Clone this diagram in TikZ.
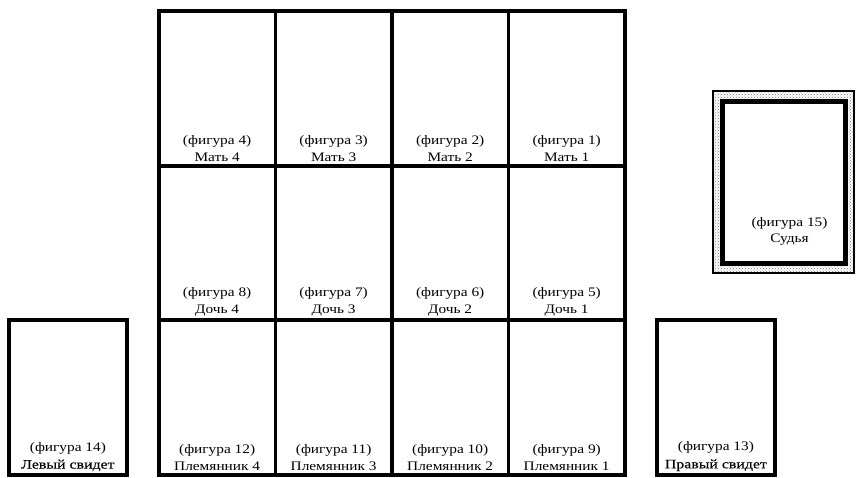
\documentclass[tikz,border=0pt]{standalone}
\usepackage{fontspec}
\setmainfont[FakeStretch=1.18]{Liberation Serif}
\newfontfamily\widefont[FakeStretch=1.22,FakeBold=0.3]{Liberation Serif}
\usetikzlibrary{patterns}
\begin{document}
\begin{tikzpicture}[x=1pt,y=-1pt]
\useasboundingbox[fill=white] (0,0) rectangle (859,477);
\tikzset{
  cellbox/.style={draw, line width=3.8pt, minimum width=116.5pt, minimum height=154.7pt, inner sep=0pt, anchor=north west},
  lbl/.style={align=center, anchor=south, inner sep=0pt, yshift=5.5pt, font=\fontsize{13}{17.5}\selectfont},
}
% grid of 12 cells
\node[cellbox] (c4)  at (157,9) {};
\node[cellbox] (c3)  at (273.5,9) {};
\node[cellbox] (c2)  at (390,9) {};
\node[cellbox] (c1)  at (506.5,9) {};
\node[cellbox] (c8)  at (157,163.7) {};
\node[cellbox] (c7)  at (273.5,163.7) {};
\node[cellbox] (c6)  at (390,163.7) {};
\node[cellbox] (c5)  at (506.5,163.7) {};
\node[cellbox] (c12) at (157,318.3) {};
\node[cellbox] (c11) at (273.5,318.3) {};
\node[cellbox] (c10) at (390,318.3) {};
\node[cellbox] (c9)  at (506.5,318.3) {};
% side boxes
\node[cellbox, minimum width=118pt] (c14) at (7,318.3) {};
\node[cellbox, minimum width=118pt] (c13) at (655,318.3) {};
% judge box
\node[draw, line width=1.2pt, fill=black!12, pattern=crosshatch dots, pattern color=black!55,
      minimum width=141pt, minimum height=182pt, inner sep=0pt] (j15o) at (783.5,182) {};
\node[draw, line width=5pt, fill=white, minimum width=123pt, minimum height=162pt, inner sep=0pt] (j15) at (783.5,182.5) {};
% labels
\node[lbl] at (c4.south)  {(фигура 4)\\Мать 4};
\node[lbl] at (c3.south)  {(фигура 3)\\Мать 3};
\node[lbl] at (c2.south)  {(фигура 2)\\Мать 2};
\node[lbl] at (c1.south)  {(фигура 1)\\Мать 1};
\node[lbl] at (c8.south)  {(фигура 8)\\Дочь 4};
\node[lbl] at (c7.south)  {(фигура 7)\\Дочь 3};
\node[lbl] at (c6.south)  {(фигура 6)\\Дочь 2};
\node[lbl] at (c5.south)  {(фигура 5)\\Дочь 1};
\node[lbl] at (c12.south) {(фигура 12)\\Племянник 4};
\node[lbl] at (c11.south) {(фигура 11)\\Племянник 3};
\node[lbl] at (c10.south) {(фигура 10)\\Племянник 2};
\node[lbl] at (c9.south)  {(фигура 9)\\Племянник 1};
\node[lbl] at (c14.south) {(фигура 14)\\{\widefont Левый свидет}};
\node[lbl] at (c13.south) {(фигура 13)\\{\widefont Правый свидет}};
\node[lbl, xshift=6pt, yshift=15pt, font=\fontsize{13}{16}\selectfont] at (j15.south) {(фигура 15)\\Судья};
\end{tikzpicture}
\end{document}
